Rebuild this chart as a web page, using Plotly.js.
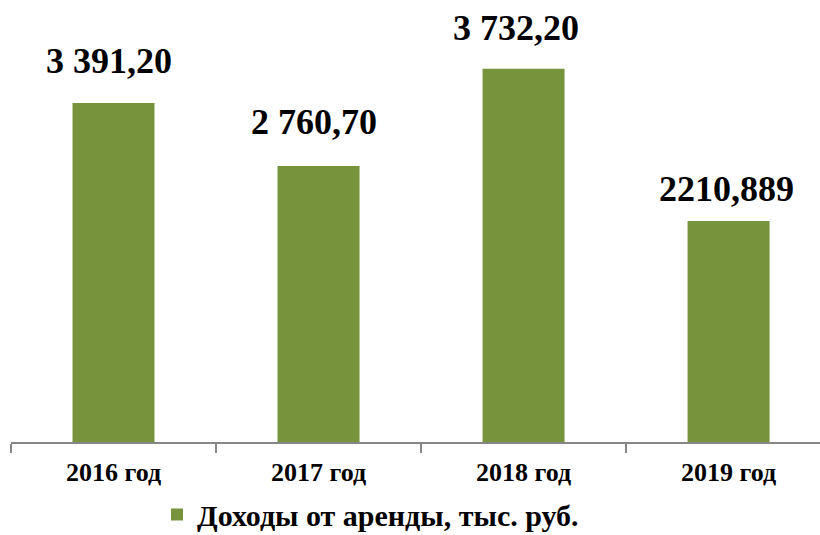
<!DOCTYPE html>
<html>
<head>
<meta charset="utf-8">
<script src="https://cdn.plot.ly/plotly-3.0.1.min.js"></script>
<style>html,body{margin:0;padding:0;background:#fff;}#chart{width:820px;height:535px;}</style>
</head>
<body>
<div id="chart"></div>
<script>
const categories = ["2016 год", "2017 год", "2018 год", "2019 год"];
const values = [3391.2, 2760.7, 3732.2, 2210.889];
const valueLabels = ["3 391,20", "2 760,70", "3 732,20", "2210,889"];
const seriesName = "Доходы от аренды, тыс. руб.";

const labelYShift = [20, 22, 19, 10];
const labelXShift = [-5, -5, -8, -2];
const serif = "Liberation Serif";

const annotations = categories.map((c, i) => ({
  x: c, y: values[i], xref: 'x', yref: 'y',
  text: valueLabels[i],
  showarrow: false, yanchor: 'bottom', xanchor: 'center',
  yshift: labelYShift[i], xshift: labelXShift[i],
  font: {family: serif, size: 36, color: '#000', weight: 'bold'}
}));

const trace = {
  type: 'bar', x: categories, y: values, name: seriesName,
  marker: {color: '#77933C'},
  hoverinfo: 'none'
};

const layout = {
  width: 820, height: 535,
  margin: {l: 11, r: 0, t: 0, b: 93, autoexpand: false},
  paper_bgcolor: '#fff', plot_bgcolor: '#fff',
  bargap: 0.6,
  showlegend: true,
  legend: {orientation: 'h', x: 148/820, xanchor: 'left', y: -0.105, yanchor: 'top',
    font: {family: serif, size: 30, color: '#000', weight: 'bold'}},
  xaxis: {
    type: 'category', range: [-0.5, 3.446],
    showline: true, linecolor: '#868686', linewidth: 1.5,
    ticks: 'outside', tickson: 'boundaries', ticklen: 9, tickcolor: '#868686', tickwidth: 1.5,
    ticklabelstandoff: 6,
    tickfont: {family: serif, size: 26, color: '#000', weight: 'bold'},
    showgrid: false, zeroline: false
  },
  yaxis: {range: [0, 4420], visible: false, showgrid: false, zeroline: false},
  annotations: annotations
};

Plotly.newPlot('chart', [trace], layout, {displayModeBar: false, staticPlot: true});
</script>
</body>
</html>
